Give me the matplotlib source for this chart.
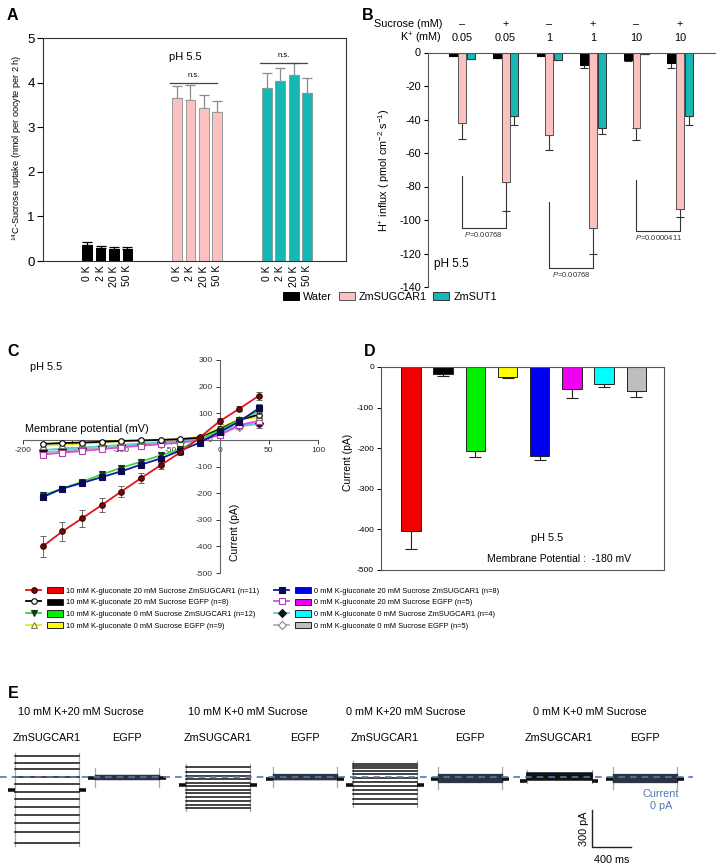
import matplotlib
matplotlib.use('Agg')
import matplotlib.pyplot as plt
from matplotlib.lines import Line2D
from matplotlib.patches import Patch
from matplotlib.legend_handler import HandlerTuple

plt.rcParams['font.family'] = ['Liberation Sans', 'DejaVu Sans']
plt.rcParams['axes.unicode_minus'] = False
plt.rcParams['mathtext.fontset'] = 'custom'
plt.rcParams['mathtext.rm'] = 'Liberation Sans'
plt.rcParams['mathtext.it'] = 'Liberation Sans:italic'
plt.rcParams['mathtext.bf'] = 'Liberation Sans:bold'

W, H = 720, 865

# ---------------- Panel A data ----------------
a_k_labels = ['0 K', '2 K', '20 K', '50 K']
a_water = [0.36, 0.29, 0.26, 0.27]
a_water_err = [0.06, 0.05, 0.05, 0.05]
a_sugcar = [3.65, 3.61, 3.43, 3.34]
a_sugcar_err = [0.27, 0.33, 0.30, 0.25]
a_sut = [3.89, 4.03, 4.16, 3.76]
a_sut_err = [0.32, 0.29, 0.29, 0.34]
ab_legend = ['Water', 'ZmSUGCAR1', 'ZmSUT1']

# ---------------- Panel B data ----------------
b_sucrose = ['–', '+', '–', '+', '–', '+']
b_k = ['0.05', '0.05', '1', '1', '10', '10']
b_water = [-2, -3, -2, -7.5, -4.5, -6.3]
b_water_err = [0, 0, 0, 1.7, 0.5, 3.0]
b_sugcar = [-42, -77.5, -49.5, -105, -45, -93.5]
b_sugcar_err = [9.5, 17, 9, 15, 7.5, 4.5]
b_sut = [-3.8, -38, -4.5, -45, -1, -38]
b_sut_err = [0, 5.5, 0, 3.5, 0, 5.5]
b_pvalues = ['0.00768', '0.00768', '0.0000411']
b_bracket_top = [-74, -89.5, -76]
b_bracket_bottom = [-104.5, -128.5, -106.5]

# ---------------- Panel C data ----------------
c_voltage = [-180, -160, -140, -120, -100, -80, -60, -40, -20, 0, 20, 40]
c_red = [-400, -344, -295, -245, -194, -144, -95, -47, 10, 70, 117, 166]
c_red_err = [40, 37, 32, 25, 22, 18, 13, 8, 5, 12, 10, 15]
c_black = [-15, -12, -10, -7, -4, -2, 0, 3, 8, 40, 75, 95]
c_black_err = [5, 5, 4, 4, 4, 3, 3, 3, 3, 6, 8, 10]
c_green = [-208, -183, -157, -130, -105, -82, -58, -35, 5, 35, 75, 108]
c_green_err = [12, 10, 10, 10, 9, 8, 8, 7, 4, 6, 8, 12]
c_yellow = [-22, -18, -15, -11, -7, -4, -1, 3, 12, 45, 78, 85]
c_yellow_err = [6, 5, 5, 4, 4, 4, 3, 3, 3, 6, 8, 10]
c_blue = [-215, -183, -162, -140, -118, -93, -70, -40, -10, 30, 69, 119]
c_blue_err = [10, 9, 9, 8, 8, 7, 7, 6, 4, 6, 10, 15]
c_magenta = [-55, -48, -42, -35, -28, -22, -16, -10, -2, 18, 55, 72]
c_magenta_err = [8, 7, 6, 6, 5, 5, 4, 4, 3, 5, 8, 12]
c_cyan = [-38, -33, -29, -24, -19, -14, -9, -4, 5, 30, 55, 62]
c_cyan_err = [6, 5, 5, 5, 4, 4, 3, 3, 3, 5, 8, 10]
c_gray = [-47, -41, -36, -30, -25, -20, -15, -10, 2, 22, 50, 60]
c_gray_err = [8, 8, 7, 6, 6, 5, 5, 4, 3, 5, 10, 14]

cd_labels = ['10 mM K-gluconate 20 mM Sucrose ZmSUGCAR1 (n=11)',
             '10 mM K-gluconate 20 mM Sucrose EGFP (n=8)',
             '10 mM K-gluconate 0 mM Sucrose ZmSUGCAR1 (n=12)',
             '10 mM K-gluconate 0 mM Sucrose EGFP (n=9)',
             '0 mM K-gluconate 20 mM Sucrose ZmSUGCAR1 (n=8)',
             '0 mM K-gluconate 20 mM Sucrose EGFP (n=5)',
             '0 mM K-gluconate 0 mM Sucrose ZmSUGCAR1 (n=4)',
             '0 mM K-gluconate 0 mM Sucrose EGFP (n=5)']

# ---------------- Panel D data ----------------
d_values = [-405, -17, -207, -25, -219, -54, -42, -58]
d_err = [43, 4, 15, 3, 10, 22, 7, 15]

# ---------------- Panel E data (current levels, pA) ----------------
e_conditions = ['10 mM K+20 mM Sucrose', '10 mM K+0 mM Sucrose',
                '0 mM K+20 mM Sucrose', '0 mM K+0 mM Sucrose']
e_cells = ['ZmSUGCAR1', 'EGFP']
e_k10_s20_sugcar = [170, 113, 65, 0, -57, -122, -178, -243, -308, -373, -446, -535]
e_k10_s20_egfp = [16, 13, 10, 7, 4, 1, -2, -5, -8, -11, -14, -17]
e_k10_s0_sugcar = [81, 40, 8, -16, -49, -73, -105, -130, -162, -194, -227, -251]
e_k10_s0_egfp = [24, 18, 13, 8, 4, 0, -4, -8, -11, -14, -16, -18]
e_k0_s20_sugcar = [105, 89, 73, 49, 24, -8, -41, -73, -105, -138, -178, -219]
e_k0_s20_egfp = [24, 18, 12, 6, 0, -6, -12, -18, -24, -30, -36, -40]
e_k0_s0_sugcar = [32, 27, 22, 17, 12, 7, 2, -3, -8, -13, -18, -24]
e_k0_s0_egfp = [24, 18, 12, 6, 0, -6, -12, -18, -24, -30, -36, -40]
e_holding = [-105, -10, -65, -16, -65, -15, -32, -15]

# ====================== figure ======================
fig = plt.figure(figsize=(7.2, 8.65), dpi=100)


def add_ax(l, t, r, b):
    return fig.add_axes([l / W, 1 - b / H, (r - l) / W, (b - t) / H])


def ftext(x, y, s, **kw):
    return fig.text(x / W, 1 - y / H, s, **kw)


PINK = '#FBC1C1'
TEAL = '#17B8B3'

# ---------------- Panel A ----------------
ax = add_ax(43, 38, 346, 261)
starts = [0, 6.7, 13.4]
a_sets = [(a_water, a_water_err), (a_sugcar, a_sugcar_err), (a_sut, a_sut_err)]
a_fc = ['black', PINK, TEAL]
a_ec = ['black', '#9a9a9a', '#7f9f9f']
a_errc = ['black', '#8a8a8a', '#8a8a8a']
all_x, all_lab = [], []
for gi, (vals, errs) in enumerate(a_sets):
    xs = [starts[gi] + i for i in range(len(vals))]
    ax.bar(xs, vals, width=0.72, color=a_fc[gi], edgecolor=a_ec[gi], linewidth=0.7, zorder=2)
    ax.errorbar(xs, vals, yerr=[[0] * len(errs), errs], fmt='none', ecolor=a_errc[gi],
                elinewidth=0.9, capsize=3.5, capthick=0.9, zorder=1)
    all_x += xs
    all_lab += a_k_labels
ax.set_xticks(all_x)
ax.set_xticklabels(all_lab, rotation=90, fontsize=7.5)
ax.tick_params(axis='x', length=0, pad=3)
ax.set_xlim(-3.3, 19.3)
ax.set_ylim(0, 5)
ax.set_yticks(range(6))
ax.tick_params(axis='y', labelsize=9.5, length=4, width=0.8, pad=2)
for s in ax.spines.values():
    s.set_linewidth(0.8)
    s.set_color('#333333')
ftext(17, 148, r'$^{14}$C-Sucrose uptake (nmol per oocyte per 2 h)', rotation=90,
      ha='center', va='center', fontsize=6.6)
ax.text(6.1, 4.57, 'pH 5.5', fontsize=8, va='center')
for gi, ylev in [(1, 4.0), (2, 4.45)]:
    x0, x1 = starts[gi] - 0.5, starts[gi] + 3.0
    ax.plot([x0, x1], [ylev, ylev], color='#444444', lw=0.9)
    ax.text((x0 + x1) / 2, ylev + 0.07, 'n.s.', ha='center', va='bottom', fontsize=5.5)

# ---------------- Panel B ----------------
ax = add_ax(428, 52.5, 715, 287)
gx = list(range(len(b_k)))
b_sets = [(b_water, b_water_err, 'black', 'black', -0.2),
          (b_sugcar, b_sugcar_err, PINK, '#555555', 0.0),
          (b_sut, b_sut_err, TEAL, '#333333', 0.2)]
for vals, errs, fc, ec, off in b_sets:
    xs = [g + off for g in gx]
    ax.bar(xs, vals, width=0.18, color=fc, edgecolor=ec, linewidth=0.7, zorder=2)
    ax.errorbar(xs, vals, yerr=[errs, [0] * len(errs)], fmt='none', ecolor='#333333',
                elinewidth=0.8, capsize=3, capthick=0.8, zorder=1)
ax.set_xlim(-0.78, 5.8)
ax.set_ylim(-140, 0)
ax.set_yticks(range(0, -141, -20))
ax.set_xticks([])
ax.spines['right'].set_visible(False)
ax.spines['bottom'].set_visible(False)
for s in ['left', 'top']:
    ax.spines[s].set_color('#555555')
    ax.spines[s].set_linewidth(0.8)
ax.tick_params(axis='y', labelsize=7.8, length=3, pad=2)
for i in gx:
    ax.text(i, 1.12, b_sucrose[i], transform=ax.get_xaxis_transform(), ha='center',
            va='center', fontsize=7.8)
    ax.text(i, 1.062, b_k[i], transform=ax.get_xaxis_transform(), ha='center',
            va='center', fontsize=7.8)
ftext(442, 24, 'Sucrose (mM)', ha='right', va='center', fontsize=7.8)
ftext(442, 38, 'K$^{+}$ (mM)', ha='right', va='center', fontsize=7.8)
for k, (i, j) in enumerate([(0, 1), (2, 3), (4, 5)]):
    right_end = b_sugcar[j] - b_sugcar_err[j]
    ax.plot([i, i, j, j], [b_bracket_top[k], b_bracket_bottom[k], b_bracket_bottom[k], right_end],
            color='#333333', lw=0.8)
    ax.text((i + j) / 2, b_bracket_bottom[k] - 1.5, r'$\it{P}$=' + b_pvalues[k], ha='center',
            va='top', fontsize=5.5, color='#333333')
ax.text(-0.64, -126, 'pH 5.5', va='center', fontsize=8.5)
ftext(384, 170, r'H$^{+}$ influx ( pmol cm$^{-2}$ s$^{-1}$)', rotation=90, ha='center',
      va='center', fontsize=7.8)

fig.legend(handles=[Patch(facecolor='black', edgecolor='black', lw=0.7),
                    Patch(facecolor=PINK, edgecolor='#555555', lw=0.7),
                    Patch(facecolor=TEAL, edgecolor='#333333', lw=0.7)],
           labels=ab_legend, loc='center', bbox_to_anchor=(390 / W, 1 - 297 / H), ncol=3,
           frameon=False, fontsize=7.8, handlelength=1.5, handleheight=0.8,
           handletextpad=0.35, columnspacing=0.6, borderpad=0, borderaxespad=0)

# ---------------- Panel C ----------------
ax = add_ax(23, 360, 318, 573)
c_data = [(c_red, c_red_err), (c_black, c_black_err), (c_green, c_green_err),
          (c_yellow, c_yellow_err), (c_blue, c_blue_err), (c_magenta, c_magenta_err),
          (c_cyan, c_cyan_err), (c_gray, c_gray_err)]
c_styles = [('#E3141B', 'o', '#6b0c0c', '#3a0000'),
            ('black', 'o', 'white', 'black'),
            ('#3AD63A', 'v', '#163816', '#163816'),
            ('#E6E62A', '^', 'white', '#808050'),
            ('#1515A0', 's', '#0a0a50', '#0a0a50'),
            ('#D94ED9', 's', 'white', '#b040b0'),
            ('#52CDE0', 'D', '#101010', '#101010'),
            ('#B0B0B0', 'D', 'white', '#888888')]
order = [7, 6, 5, 3, 1, 2, 4, 0]
for z, idx in enumerate(order):
    vals, errs = c_data[idx]
    col, mk, mfc, mec = c_styles[idx]
    ax.errorbar(c_voltage, vals, yerr=errs, fmt='none', ecolor='#666666', elinewidth=0.7,
                capsize=2.5, capthick=0.7, zorder=2 + z)
    ax.plot(c_voltage, vals, color=col, lw=1.3, marker=mk, ms=4, mfc=mfc, mec=mec,
            mew=0.8, zorder=3 + z)
ax.set_xlim(-200, 100)
ax.set_ylim(-500, 300)
ax.spines['left'].set_position(('data', 0))
ax.spines['bottom'].set_position(('data', 0))
ax.spines['top'].set_visible(False)
ax.spines['right'].set_visible(False)
for s in ['left', 'bottom']:
    ax.spines[s].set_color('#666666')
    ax.spines[s].set_linewidth(0.8)
ax.set_xticks([-200, -150, -100, -50, 0, 50, 100])
ax.set_yticks(range(-500, 301, 100))
ax.tick_params(labelsize=6, length=3, width=0.7, colors='#333333', pad=2)
ax.text(-198, 40, 'Membrane potential (mV)', fontsize=7.8, va='center')
ax.text(-193, 272, 'pH 5.5', fontsize=7.8, va='center')
ax.text(0.72, 0.19, 'Current (pA)', transform=ax.transAxes, rotation=90, ha='center',
        va='center', fontsize=7.5)

# ---------------- Panel D ----------------
ax = add_ax(381, 367, 664, 570)
d_colors = ['#F00000', '#000000', '#00F000', '#FFFF00', '#0000F0', '#F000F0', '#00FFFF', '#BEBEBE']
dx = list(range(len(d_values)))
ax.bar(dx, d_values, width=0.6, color=d_colors, edgecolor='#222222', linewidth=0.7, zorder=2)
ax.errorbar(dx, d_values, yerr=[d_err, [0] * len(d_err)], fmt='none', ecolor='#222222',
            elinewidth=0.8, capsize=4, capthick=0.8, zorder=1)
ax.set_xlim(-0.93, 7.86)
ax.set_ylim(-500, 0)
ax.set_yticks(range(-500, 1, 100))
ax.set_xticks([])
for s in ax.spines.values():
    s.set_color('#555555')
    s.set_linewidth(0.8)
ax.tick_params(axis='y', labelsize=6, length=3, width=0.7, pad=2)
ax.text(0.587, 0.158, 'pH 5.5', transform=ax.transAxes, ha='center', va='center', fontsize=7.8)
ax.text(0.63, 0.055, 'Membrane Potential :  -180 mV', transform=ax.transAxes, ha='center',
        va='center', fontsize=7.5)
ftext(348, 462, 'Current (pA)', rotation=90, ha='center', va='center', fontsize=7.5)

# ---------------- Legend C/D ----------------
handles = []
for idx in range(8):
    col, mk, mfc, mec = c_styles[idx]
    ln = Line2D([], [], color=col, lw=1.3, marker=mk, ms=4, mfc=mfc, mec=mec, mew=0.8)
    pt = Patch(facecolor=d_colors[idx], edgecolor='#222222', lw=0.7)
    handles.append((ln, pt))
for col_i, xpx in enumerate([26, 274]):
    fig.legend(handles=handles[4 * col_i:4 * col_i + 4], labels=cd_labels[4 * col_i:4 * col_i + 4],
               handler_map={tuple: HandlerTuple(ndivide=None, pad=0.8)},
               loc='upper left', bbox_to_anchor=(xpx / W, 1 - 587 / H), frameon=False,
               fontsize=5.4, handlelength=4.9, handleheight=0.95, handletextpad=0.5,
               labelspacing=0.5, borderpad=0, borderaxespad=0)

# ---------------- Panel E ----------------
ax = fig.add_axes([0, 0, 1, 185 / H])
ax.set_xlim(0, 7385)
ax.set_ylim(-713, 786)
ax.axis('off')
e_traces = [e_k10_s20_sugcar, e_k10_s20_egfp, e_k10_s0_sugcar, e_k10_s0_egfp,
            e_k0_s20_sugcar, e_k0_s20_egfp, e_k0_s0_sugcar, e_k0_s0_egfp]
block_start = [154, 975, 1908, 2801, 3622, 4494, 5407, 6289]
pulse = 660
for b, traces in enumerate(e_traces):
    x0 = block_start[b]
    x1 = x0 + pulse
    is_egfp = (b % 2 == 1)
    col = '#2b3440' if is_egfp else '#111111'
    lw = 0.9 if is_egfp else 1.1
    for lev in traces:
        ax.plot([x0, x1], [lev, lev], color=col, lw=lw, zorder=2)
    top, bot = max(traces), min(traces)
    margin = 60 if is_egfp else 25
    for xe in (x0, x1):
        ax.plot([xe, xe], [bot - margin, top + margin], color='#a8a8a8', lw=0.9, zorder=1)
    hl = e_holding[b]
    ax.plot([x0 - 70, x0], [hl, hl], color='#111111', lw=2.6, solid_capstyle='butt', zorder=3)
    ax.plot([x1, x1 + 70], [hl, hl], color='#111111', lw=2.6, solid_capstyle='butt', zorder=3)
    ftext((x0 + pulse / 2) / 10.26, 738, e_cells[b % 2], ha='center', va='center', fontsize=7.8)
for ci, xpx in enumerate([18, 188, 346, 533]):
    ftext(xpx, 712, e_conditions[ci], ha='left', va='center', fontsize=7.8)
ax.plot([0, 7110], [0, 0], color='#4f79b0', lw=1.2, ls=(0, (4, 3)), zorder=5)
ax.text(6782, -186, 'Current\n0 pA', color='#4f79b0', ha='center', va='center',
        fontsize=7.8, linespacing=1.3)
# scale bar
ax.plot([6074, 6074, 6474], [-267, -567, -567], color='#222222', lw=1.0)
ax.text(5985, -417, '300 pA', rotation=90, ha='center', va='center', fontsize=7.8)
ax.text(6274, -675, '400 ms', ha='center', va='center', fontsize=7.8)

# ---------------- Panel letters ----------------
for lab, xp, yp in [('A', 12, 15), ('B', 368, 15), ('C', 13, 352), ('D', 370, 352), ('E', 13, 693)]:
    ftext(xp, yp, lab, fontsize=11.5, fontweight='bold', ha='center', va='center')

fig.savefig('out.png', dpi=100)
